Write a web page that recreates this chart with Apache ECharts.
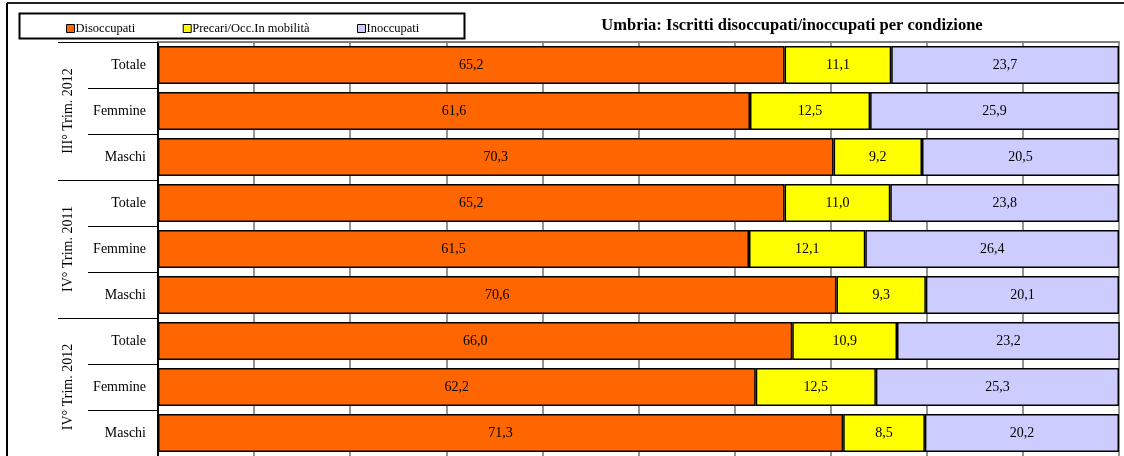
<!DOCTYPE html>
<html>
<head>
<meta charset="utf-8">
<script src="https://cdn.jsdelivr.net/npm/echarts@6/dist/echarts.min.js"></script>
<style>
html,body{margin:0;padding:0;background:#fff;}
#chart{width:1124px;height:456px;}
</style>
</head>
<body>
<div id="chart"></div>
<script>
// ---- data ----
const groups = ['III° Trim. 2012', 'IV° Trim. 2011', 'IV° Trim. 2012'];
const categories = ['Totale', 'Femmine', 'Maschi', 'Totale', 'Femmine', 'Maschi', 'Totale', 'Femmine', 'Maschi'];
const seriesNames = ['Disoccupati', 'Precari/Occ.In mobilità', 'Inoccupati'];
const disoccupati = [65.2, 61.6, 70.3, 65.2, 61.5, 70.6, 66.0, 62.2, 71.3];
const precari     = [11.1, 12.5, 9.2, 11.0, 12.1, 9.3, 10.9, 12.5, 8.5];
const inoccupati  = [23.7, 25.9, 20.5, 23.8, 26.4, 20.1, 23.2, 25.3, 20.2];
const titleText = 'Umbria: Iscritti disoccupati/inoccupati per condizione';

const FONT = '"Liberation Serif", "Times New Roman", serif';
const colors = ['#FF6600', '#FFFF00', '#CCCCFF'];
const fmt = p => p.value.toFixed(1).replace('.', ',');

function mkSeries(name, data, color) {
  return {
    name: name, type: 'bar', stack: 'tot', data: data,
    barCategoryGap: '17%',
    itemStyle: { color: color, borderColor: '#000', borderWidth: 1.5 },
    label: { show: true, position: 'inside', formatter: fmt, color: '#000',
             fontFamily: FONT, fontSize: 14 },
    emphasis: { disabled: true }
  };
}

const chart = echarts.init(document.getElementById('chart'), null, { renderer: 'canvas' });
chart.setOption({
  animation: false,
  backgroundColor: '#fff',
  title: {
    text: titleText, left: 787, top: 12, textAlign: 'center',
    textStyle: { fontFamily: FONT, fontSize: 16.5, fontWeight: 'bold', color: '#000' }
  },
  legend: {
    left: 61, top: 17, itemWidth: 8, itemHeight: 8, itemGap: 47.5,
    icon: 'rect',
    textStyle: { fontFamily: FONT, fontSize: 12.5, color: '#000', padding: [0, 0, 0, -4] },
    itemStyle: { borderColor: '#000', borderWidth: 1 },
    data: seriesNames
  },
  grid: { left: 158, right: 5, top: 42, bottom: 0, containLabel: false },
  xAxis: {
    type: 'value', min: 0, max: 100, interval: 10, position: 'top',
    axisLine: { show: true, lineStyle: { color: '#808080', width: 2 } },
    axisTick: { show: false }, axisLabel: { show: false },
    splitLine: { show: true, lineStyle: { color: '#707070', width: 1.5 } }
  },
  yAxis: [
    {
      type: 'category', data: categories, inverse: true,
      axisLine: { show: true, lineStyle: { color: '#000', width: 2 } },
      axisTick: { show: true, length: 70, lineStyle: { color: '#000', width: 1 } },
      axisLabel: { margin: 12, fontFamily: FONT, fontSize: 14, color: '#000' }
    },
    {
      type: 'category', data: groups, inverse: true, position: 'left', offset: 0,
      axisLine: { show: false },
      axisTick: { show: true, length: 100, lineStyle: { color: '#000', width: 1 } },
      axisLabel: { rotate: 90, margin: 83, fontFamily: FONT, fontSize: 14, color: '#000' }
    }
  ],
  series: [
    mkSeries(seriesNames[0], disoccupati, colors[0]),
    mkSeries(seriesNames[1], precari, colors[1]),
    mkSeries(seriesNames[2], inoccupati, colors[2])
  ],
  graphic: [
    { type: 'rect', left: 17, top: 11, shape: { width: 445, height: 25 },
      style: { fill: 'none', stroke: '#000', lineWidth: 2 }, z: 10, silent: true },
    { type: 'line', shape: { x1: 7, y1: 3, x2: 1124, y2: 3 },
      style: { stroke: '#222', lineWidth: 2 }, silent: true },
    { type: 'line', shape: { x1: 7, y1: 3, x2: 7, y2: 456 },
      style: { stroke: '#000', lineWidth: 2 }, silent: true }
  ]
});
</script>
</body>
</html>
